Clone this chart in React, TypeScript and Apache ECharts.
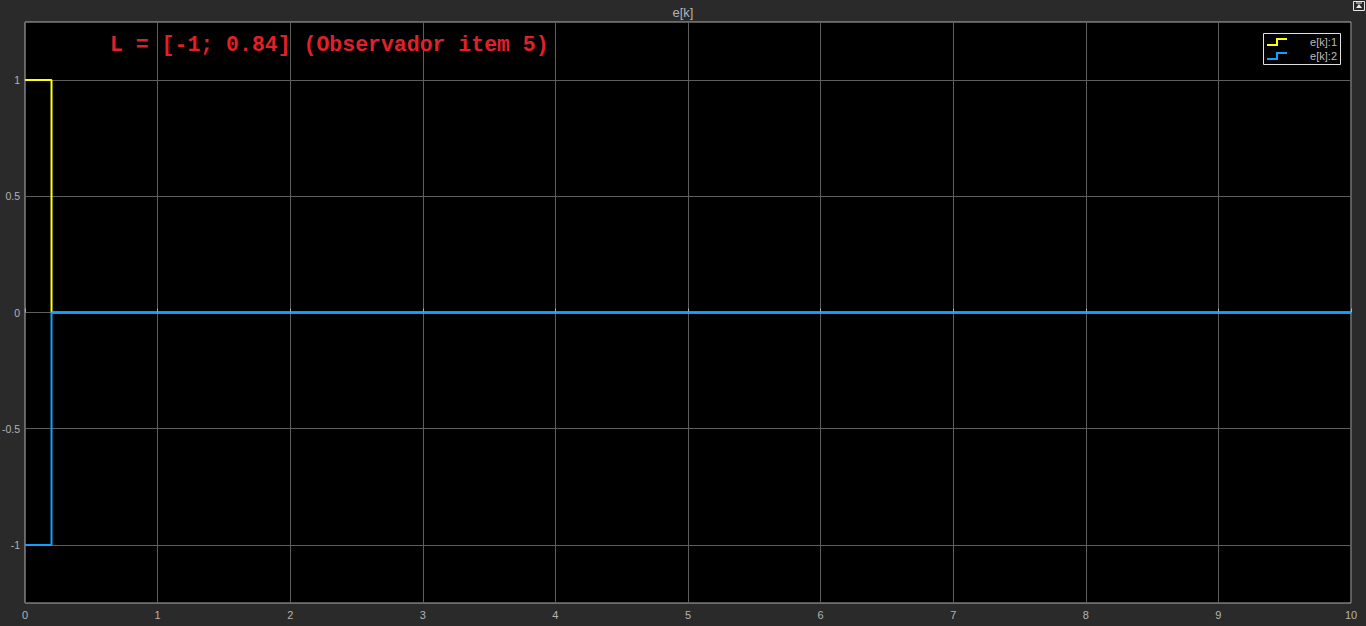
import React, { useEffect, useRef } from "react";
import * as echarts from "echarts";

const seriesNames = ["e[k]:1", "e[k]:2"];
const times = [0, 0.2, 10];
const e1 = [1, 0, 0];
const e2 = [-1, 0, 0];
const colors = ["#ffff11", "#129fff"];
const xTicks = [0, 1, 2, 3, 4, 5, 6, 7, 8, 9, 10];
const yTicks = [-1, -0.5, 0, 0.5, 1];
const title = "e[k]";
const note = "L = [-1; 0.84] (Observador item 5)";

export default function App() {
  const ref = useRef<HTMLDivElement>(null);
  useEffect(() => {
    document.body.style.margin = "0";
    const chart = echarts.init(ref.current!, null, { renderer: "svg" });
    const mk = (vals: number[]) => times.map((t, i) => [t, vals[i]]);
    const legendItems: any[] = [];
    seriesNames.forEach((n, i) => {
      const y = 42 + i * 14;
      legendItems.push({
        type: "polyline",
        shape: { points: [[1267, y + 3], [1277, y + 3], [1277, y - 3], [1287, y - 3]] },
        style: { stroke: colors[i], lineWidth: 2, fill: null },
      });
      legendItems.push({
        type: "text",
        x: 1337,
        y: y,
        style: { text: n, fill: "#bdbdbd", font: "11px Arial, 'Liberation Sans', sans-serif", align: "right", verticalAlign: "middle" },
      });
    });
    chart.setOption({
      animation: false,
      backgroundColor: "#2a2a2a",
      title: {
        text: title,
        left: "center",
        top: 1,
        textStyle: { color: "#b4b4b4", fontSize: 13, fontWeight: "normal", fontFamily: "Arial, 'Liberation Sans', sans-serif" },
      },
      grid: {
        left: 25, right: 15, top: 22, bottom: 23, show: true, backgroundColor: "#000", borderColor: "#b0b0b0", borderWidth: 1,
        outerBoundsMode: "none", containLabel: false,
      },
      xAxis: {
        type: "value",
        min: 0,
        max: 10,
        interval: 1,
        axisLine: { show: false },
        axisTick: { show: true, inside: true, length: 4, lineStyle: { color: "#b0b0b0" } },
        splitLine: { show: true, lineStyle: { color: "#5e5e5e", width: 1 } },
        axisLabel: { color: "#b4b4b4", fontSize: 11, margin: 6, fontFamily: "Arial, 'Liberation Sans', sans-serif", formatter: (v: number) => (xTicks.includes(v) ? String(v) : "") },
      },
      yAxis: {
        type: "value",
        min: -1.25,
        max: 1.25,
        interval: 0.25,
        axisLine: { show: false },
        axisTick: { show: false },
        splitLine: { show: true, lineStyle: { color: ["rgba(0,0,0,0)", "#5e5e5e"], width: 1 } },
        axisLabel: {
          color: "#b4b4b4",
          fontSize: 10.5,
          margin: 5,
          fontFamily: "Arial, 'Liberation Sans', sans-serif",
          formatter: (v: number) => (yTicks.some((t) => Math.abs(t - v) < 1e-9) ? String(v) : ""),
        },
      },
      series: [
        { name: seriesNames[0], type: "line", step: "end", data: mk(e1), showSymbol: false, lineStyle: { color: colors[0], width: 2 }, itemStyle: { color: colors[0] } },
        { name: seriesNames[1], type: "line", step: "end", data: mk(e2), showSymbol: false, lineStyle: { color: colors[1], width: 2 }, itemStyle: { color: colors[1] } },
      ],
      graphic: [
        {
          type: "text",
          x: 110,
          y: 45,
          style: { text: note, fill: "#e0202a", font: "bold 21.5px 'Liberation Mono', 'Courier New', monospace", verticalAlign: "middle" },
        },
        { type: "rect", shape: { x: 1263.5, y: 33.5, width: 77, height: 31 }, style: { fill: "#000", stroke: "#e0e0e0", lineWidth: 1 } },
        ...legendItems,
        { type: "rect", shape: { x: 1353.5, y: 1.5, width: 11, height: 9 }, style: { fill: "#2a2a2a", stroke: "#e8e8e8", lineWidth: 1 } },
        { type: "polygon", shape: { points: [[1356, 8], [1359, 4], [1362, 8]] }, style: { fill: "#e8e8e8" } },
        { type: "line", shape: { x1: 1356, y1: 3, x2: 1362, y2: 3 }, style: { stroke: "#e8e8e8", lineWidth: 1 } },
      ],
    });
    return () => chart.dispose();
  }, []);
  return <div ref={ref} style={{ width: 1366, height: 626 }} />;
}
